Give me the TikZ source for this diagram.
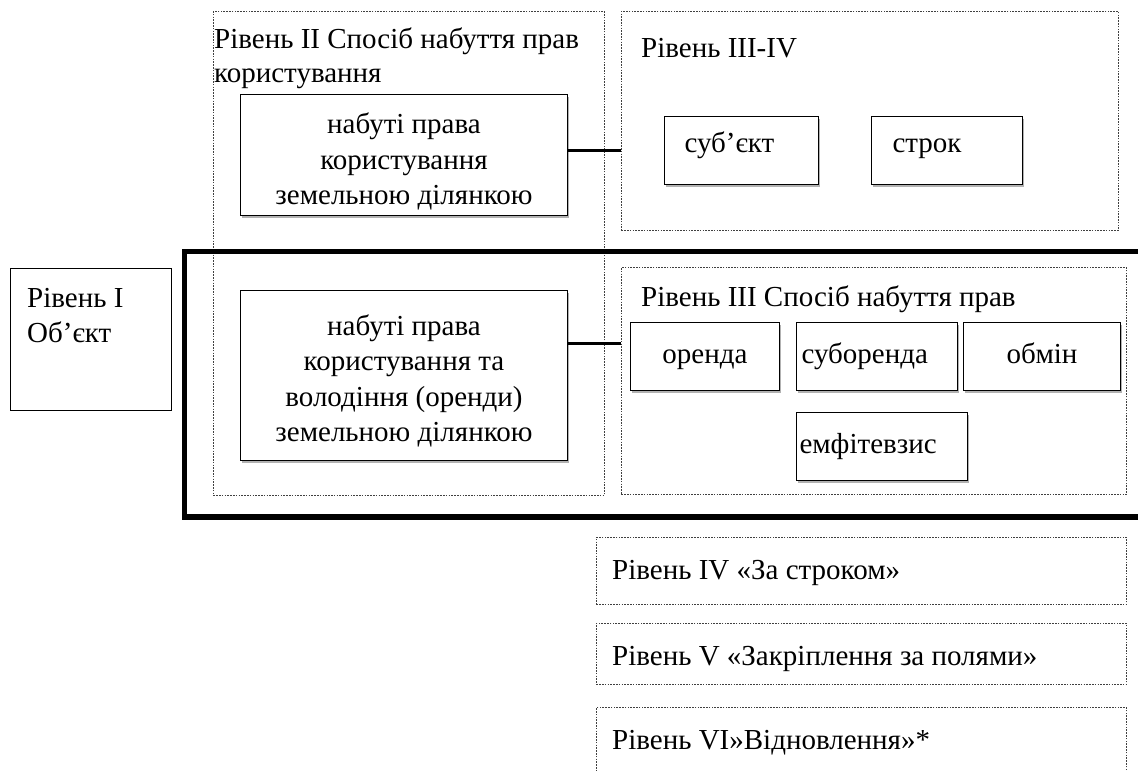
\documentclass[tikz,border=0pt]{standalone}
\usepackage{fontspec}
\setmainfont{Liberation Serif}
\newfontfamily\tnr{Liberation Serif}
\usetikzlibrary{shadows,calc}
\newcommand\fs{\tnr\fontsize{29}{35.5}\selectfont}
\tikzset{
  solidbox/.style={draw, line width=1pt, fill=white, inner sep=0pt, font=\fs,
    drop shadow={shadow xshift=1.5pt, shadow yshift=-2.5pt, fill=gray!60, opacity=1}},
  onebox/.style={solidbox, text height=20pt, text depth=6pt},
  plainbox/.style={draw, line width=1pt, fill=white, inner sep=0pt, font=\fs},
  dotbox/.style={draw=gray!50!black, line width=0.8pt, dash pattern=on 1.6pt off 1.2pt, inner sep=0pt},
  label/.style={font=\fs, inner sep=0pt},
  conn/.style={line width=3pt},
  frame/.style={line width=5.5pt},
}
\begin{document}
\begin{tikzpicture}[x=1pt,y=-1pt]
\useasboundingbox (0,0) rectangle (1138,771);
\fill[white] (0,0) rectangle (1138,771);

% dotted containers
\node[dotbox, minimum width=391pt, minimum height=484pt, anchor=north west] (lvl2) at (213,11) {};
\node[dotbox, minimum width=497pt, minimum height=219pt, anchor=north west] (lvl34) at (621,11) {};
\node[dotbox, minimum width=505pt, minimum height=227pt, anchor=north west] (lvl3) at (621,267) {};
\node[dotbox, minimum width=530pt, minimum height=67pt, anchor=north west] (lvl4) at (596,537) {};
\node[dotbox, minimum width=530pt, minimum height=61pt, anchor=north west] (lvl5) at (596,623) {};
\node[dotbox, minimum width=530pt, minimum height=90pt, anchor=north west] (lvl6) at (596,707) {};

% thick frame
\draw[frame] (1160,251.5) -- (184.5,251.5) -- (184.5,517) -- (1160,517);

% titles
\node[label, anchor=base west] (t2a) at (214,48) {Рівень II Спосіб набуття прав};
\node[label, anchor=base west] (t2b) at (214,82) {користування};
\node[label, anchor=base west] (t34) at (641,57) {Рівень III-IV};
\node[label, anchor=base west] (t3) at (641,306) {Рівень III Спосіб набуття прав};
\node[label, anchor=base west] (t4) at (612,579) {Рівень IV «За строком»};
\node[label, anchor=base west] (t5) at (612,665) {Рівень V «Закріплення за полями»};
\node[label, anchor=base west] (t6) at (612,749) {Рівень VI»Відновлення»*};

% level I
\node[plainbox, minimum width=161pt, minimum height=142pt, anchor=north west] (lvl1) at (10,268) {};
\node[label, anchor=base west] (t1a) at (27,307) {Рівень I};
\node[label, anchor=base west] (t1b) at (27,342) {Об’єкт};

% level II boxes
\node[solidbox, minimum width=327pt, minimum height=121pt, align=center, anchor=north west] (top) at (240,94)
  {\rule{0pt}{34pt}набуті права\\користування\\земельною ділянкою};
\node[solidbox, minimum width=327pt, minimum height=170pt, align=center, anchor=north west] (bot) at (240,290)
  {\rule{0pt}{32pt}набуті права\\користування та\\володіння (оренди)\\земельною ділянкою};

% level III-IV boxes
\node[onebox, text depth=16pt, minimum width=154pt, minimum height=68pt, anchor=north west, text width=114pt, inner xsep=20pt, align=left] (subj) at (664,116) {суб’єкт};
\node[onebox, text depth=16pt, minimum width=151pt, minimum height=68pt, anchor=north west, text width=109pt, inner xsep=21pt, align=left] (term) at (871,116) {строк};

% level III boxes
\node[onebox, minimum width=149pt, minimum height=68pt, anchor=north west] (rent) at (630,322) {оренда};
\node[onebox, minimum width=161pt, minimum height=68pt, anchor=north west, text width=151pt, inner xsep=5pt, align=left] (sub) at (796,322) {суборенда};
\node[onebox, minimum width=157pt, minimum height=68pt, anchor=north west] (exch) at (963,322) {обмін};
\node[onebox, minimum width=171pt, minimum height=68pt, anchor=north west, text width=165pt, inner xsep=3pt, align=left] (emph) at (796,412) {емфітевзис};

% connectors
\coordinate (c1) at ($(top.north east)+(0,56)$);
\draw[conn] (c1) -- (c1 -| lvl34.west);
\coordinate (c2) at ($(bot.north east)+(0,53)$);
\draw[conn] (c2) -- (c2 -| lvl3.west);
\end{tikzpicture}
\end{document}
